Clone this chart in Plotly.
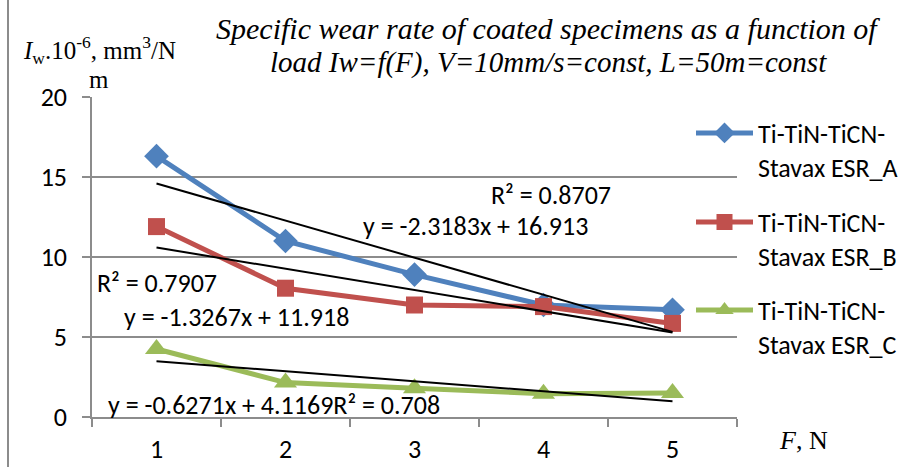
import plotly.graph_objects as go

# Load F, N (category axis)
loads = ["1", "2", "3", "4", "5"]

# Specific wear rate Iw x10^-6, mm^3/(N m)
wear_a = [16.3, 11.0, 8.9, 7.0, 6.7]
wear_b = [11.9, 8.05, 7.0, 6.9, 5.85]
wear_c = [4.25, 2.15, 1.8, 1.45, 1.5]

series_names = [
    "Ti-TiN-TiCN-<br>Stavax ESR_A",
    "Ti-TiN-TiCN-<br>Stavax ESR_B",
    "Ti-TiN-TiCN-<br>Stavax ESR_C",
]

# Linear trendlines y = k*x + b and their R^2
trend_slope = [-2.3183, -1.3267, -0.6271]
trend_icept = [16.913, 11.918, 4.1169]
trend_r2 = ["0.8707", "0.7907", "0.708"]

y_ticks = [0, 5, 10, 15, 20]

W, H = 908, 467
GRID = "#8c8c8c"
TXT_FONT = "Carlito, Lato, sans-serif"
SERIF = "Liberation Serif, Times New Roman, serif"
TXT_SIZE = 26


def px(p):
    return p / W


def py(p):
    return (H - p) / H


colors = ["#4f81bd", "#c0504d", "#9bbb59"]
symbols = ["diamond", "square", "triangle-up"]
msizes = [19, 17, 20]
legends = ["legend", "legend2", "legend3"]

fig = go.Figure()

for vals, name, col, sym, ms, lg in zip(
    [wear_a, wear_b, wear_c], series_names, colors, symbols, msizes, legends
):
    fig.add_trace(
        go.Scatter(
            x=loads,
            y=vals,
            name=name,
            mode="lines+markers",
            line=dict(color=col, width=5),
            marker=dict(symbol=sym, size=ms, color=col),
            legend=lg,
        )
    )

# Trendlines evaluated at the first and last load
for k, b in zip(trend_slope, trend_icept):
    xs = [int(loads[0]), int(loads[-1])]
    fig.add_trace(
        go.Scatter(
            x=[str(v) for v in xs],
            y=[k * v + b for v in xs],
            mode="lines",
            line=dict(color="black", width=2),
            showlegend=False,
            hoverinfo="skip",
        )
    )


def eq(k, b):
    return f"y = {k}x + {b}"


lbl_font = dict(family=TXT_FONT, size=TXT_SIZE, color="black")
labels = [
    (f"R² = {trend_r2[0]}", 551, 195),
    (eq(trend_slope[0], trend_icept[0]), 476, 226),
    (f"R² = {trend_r2[1]}", 157, 283),
    (eq(trend_slope[1], trend_icept[1]), 236, 317),
    (eq(trend_slope[2], trend_icept[2]) + f"R² = {trend_r2[2]}", 274, 405),
]
for text, cx, cy in labels:
    fig.add_annotation(
        text=text, x=px(cx), y=py(cy), xref="paper", yref="paper",
        showarrow=False, font=lbl_font, xanchor="center", yanchor="middle",
    )

# Chart title, two centred lines
for line, cy, size in [
    ("Specific wear rate of coated specimens as a function of", 28, 30),
    ("load Iw=f(F), V=10mm/s=const, L=50m=const", 62, 29),
]:
    fig.add_annotation(
        text=f"<i>{line}</i>", x=px(548), y=py(cy), xref="paper", yref="paper",
        showarrow=False, font=dict(family=SERIF, size=size, color="black"),
        xanchor="center", yanchor="middle",
    )

# Axis titles
ytitle_font = dict(family=SERIF, size=25, color="black")
fig.add_annotation(
    text="<i>I</i><sub>w</sub>.10<sup>-6</sup>, mm<sup>3</sup>/N",
    x=px(99), y=py(50), xref="paper", yref="paper", showarrow=False,
    font=ytitle_font, xanchor="center", yanchor="middle",
)
fig.add_annotation(
    text="m",
    x=px(99), y=py(80), xref="paper", yref="paper", showarrow=False,
    font=ytitle_font, xanchor="center", yanchor="middle",
)
fig.add_annotation(
    text="<i>F</i>, N",
    x=px(803), y=py(440), xref="paper", yref="paper", showarrow=False,
    font=dict(family=SERIF, size=26, color="black"),
    xanchor="center", yanchor="middle",
)

# Left frame edge
fig.add_shape(
    type="line", xref="paper", yref="paper",
    x0=px(8), x1=px(8), y0=0, y1=1,
    line=dict(color=GRID, width=2),
)

leg_common = dict(
    font=dict(family=TXT_FONT, size=TXT_SIZE, color="black"),
    bgcolor="rgba(0,0,0,0)",
    xanchor="left",
    yanchor="middle",
    valign="top",
    itemwidth=57,
)
leg_y = [150, 239, 327]
layout_legends = {}
for lg, yy in zip(legends, leg_y):
    layout_legends[lg] = dict(x=px(691), y=py(yy), **leg_common)

tick_font = dict(family=TXT_FONT, size=TXT_SIZE, color="black")

fig.update_layout(
    width=W,
    height=H,
    margin=dict(l=0, r=0, t=0, b=0, autoexpand=False),
    paper_bgcolor="white",
    plot_bgcolor="white",
    showlegend=True,
    xaxis=dict(
        domain=[px(92), px(737)],
        type="category",
        range=[-0.5, len(loads) - 0.5],
        tickson="boundaries",
        ticks="outside",
        ticklen=8,
        tickwidth=1.5,
        tickcolor=GRID,
        showline=True,
        linecolor=GRID,
        linewidth=1.5,
        showgrid=False,
        tickfont=tick_font,
        ticklabelstandoff=8,
        automargin=False,
        fixedrange=True,
    ),
    yaxis=dict(
        domain=[py(417), py(97)],
        range=[0, 20],
        tickvals=y_ticks,
        ticks="outside",
        ticklen=8,
        tickwidth=1.5,
        tickcolor=GRID,
        showline=True,
        linecolor=GRID,
        linewidth=1.5,
        showgrid=True,
        gridcolor=GRID,
        gridwidth=1.5,
        zeroline=False,
        tickfont=tick_font,
        ticklabelstandoff=10,
        automargin=False,
        fixedrange=True,
    ),
    **layout_legends,
)

fig.write_html("out.html")
